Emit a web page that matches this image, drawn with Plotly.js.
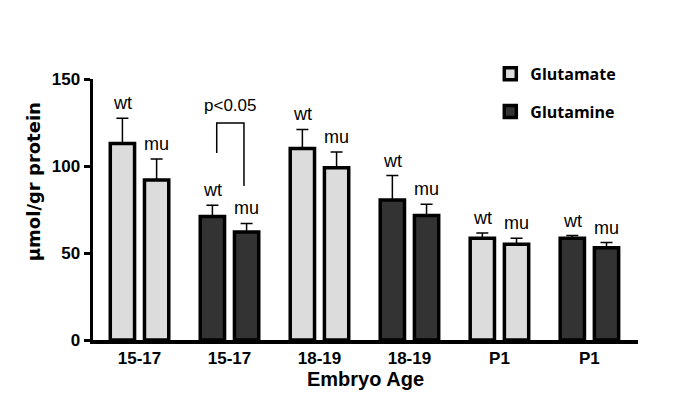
<!DOCTYPE html>
<html>
<head>
<meta charset="utf-8">
<script src="https://cdn.plot.ly/plotly-3.0.1.min.js"></script>
<style>html,body{margin:0;padding:0;background:#fff;}#chart{width:685px;height:420px;}</style>
</head>
<body>
<div id="chart"></div>
<script>
// ---- data ----
const groupLabels = ["15-17", "15-17", "18-19", "18-19", "P1", "P1"];
const groupIndex = [0, 1, 2, 3, 4, 5];
const groupSubstance = ["Glutamate", "Glutamine", "Glutamate", "Glutamine", "Glutamate", "Glutamine"];
const wtValues = [113, 71, 110, 80.5, 58.5, 58.5];
const wtErrors = [14.5, 6.5, 11, 14, 3, 1.5];
const muValues = [92, 62, 99, 71.5, 55, 53];
const muErrors = [12, 5, 9, 6.5, 3.5, 3];

// ---- styles ----
const fillColors = { Glutamate: "#dcdcdc", Glutamine: "#333333" };
const barWidth = 0.27;
const wtOffset = -0.325;
const muOffset = 0.055;
const FONT = "Liberation Sans, Arial, sans-serif";

function pick(arr, substance) {
  return arr.filter((_, i) => groupSubstance[i] === substance);
}

const traces = [];
["Glutamate", "Glutamine"].forEach(sub => {
  const xs = pick(groupIndex, sub);
  [[wtValues, wtErrors, wtOffset], [muValues, muErrors, muOffset]].forEach(([vals, errs, off], k) => {
    traces.push({
      type: "bar",
      name: sub,
      legendgroup: sub,
      showlegend: k === 0,
      x: xs,
      y: pick(vals, sub),
      width: barWidth,
      offset: off,
      marker: { color: fillColors[sub], line: { color: "#000", width: 3.5 } },
      error_y: { type: "data", array: pick(errs, sub), symmetric: false, arrayminus: pick(errs, sub).map(() => 0),
                 color: "#000", thickness: 1.5, width: 6 },
      hoverinfo: "y"
    });
  });
});

// wt / mu labels above error bars
const annotations = [];
groupIndex.forEach(i => {
  [[wtValues, wtErrors, wtOffset, "wt"], [muValues, muErrors, muOffset, "mu"]].forEach(([vals, errs, off, g]) => {
    annotations.push({
      x: i + off + barWidth / 2, y: vals[i] + errs[i], xref: "x", yref: "y",
      text: g, showarrow: false, yanchor: "bottom", yshift: 3,
      font: { family: FONT, size: 18, color: "#000" }
    });
  });
});
// significance
annotations.push({ x: 1.0, y: 128, xref: "x", yref: "y", text: "p<0.05", showarrow: false, yanchor: "bottom",
  font: { family: FONT, size: 17, color: "#000" } });
// y-axis title
annotations.push({ xref: "paper", yref: "paper", x: -0.11, y: 0.605, text: "µmol/gr protein", textangle: -90,
  showarrow: false, xanchor: "center", yanchor: "middle",
  font: { family: "DejaVu Sans, sans-serif", size: 18, color: "#000", weight: "bold" } });

const shapes = [
  { type: "path", xref: "x", yref: "y", path: "M 0.858 107.5 L 0.858 124.7 L 1.161 124.7 L 1.161 88.5",
    line: { color: "#000", width: 1.5 } }
];

const layout = {
  width: 685, height: 420,
  margin: { l: 93, r: 47, t: 79, b: 80 },
  paper_bgcolor: "#fff", plot_bgcolor: "#fff",
  font: { family: FONT, color: "#000" },
  xaxis: {
    range: [-0.517, 5.54], tickvals: groupIndex, ticktext: groupLabels,
    showgrid: false, zeroline: false, showline: true, linecolor: "#000", linewidth: 3.5,
    ticks: "", tickfont: { family: FONT, size: 17, weight: "bold" },
    title: { text: "Embryo Age", font: { family: FONT, size: 20, weight: "bold" }, standoff: 6 },
    fixedrange: true
  },
  yaxis: {
    range: [0, 150], tickvals: [0, 50, 100, 150],
    showgrid: false, zeroline: false, showline: true, linecolor: "#000", linewidth: 3.5,
    ticks: "outside", ticklen: 6, tickwidth: 3, tickcolor: "#000",
    tickfont: { family: FONT, size: 17, weight: "bold" }, fixedrange: true
  },
  showlegend: true,
  legend: { x: 0.729, y: 1.085, xanchor: "left", yanchor: "top", bgcolor: "rgba(0,0,0,0)",
    font: { family: "Open Sans, sans-serif", size: 16, weight: "bold" }, tracegroupgap: 14 },
  annotations: annotations,
  shapes: shapes,
  bargap: 0
};

Plotly.newPlot("chart", traces, layout, { displayModeBar: false, staticPlot: true });
</script>
</body>
</html>
